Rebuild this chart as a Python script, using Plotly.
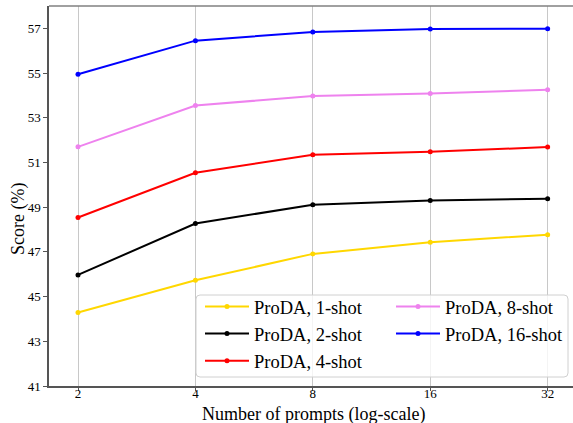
import plotly.graph_objects as go
import math

prompts = [2, 4, 8, 16, 32]
shot_1 = [44.29, 45.73, 46.91, 47.43, 47.77]
shot_2 = [45.97, 48.27, 49.11, 49.30, 49.38]
shot_4 = [48.54, 50.54, 51.34, 51.48, 51.69]
shot_8 = [51.70, 53.55, 53.97, 54.09, 54.25]
shot_16 = [54.95, 56.45, 56.84, 56.97, 56.98]

names = ["ProDA, 1-shot", "ProDA, 2-shot", "ProDA, 4-shot", "ProDA, 8-shot", "ProDA, 16-shot"]
colors = ["#FFD700", "#000000", "#FF0000", "#EE82EE", "#0000FF"]
series = [shot_1, shot_2, shot_4, shot_8, shot_16]
legends = ["legend", "legend", "legend", "legend2", "legend2"]

yticks = [41, 43, 45, 47, 49, 51, 53, 55, 57]
x_title = "Number of prompts (log-scale)"
y_title = "Score (%)"

FONT = "Liberation Serif, Times New Roman, serif"

fig = go.Figure()
for n, c, s, lg in zip(names, colors, series, legends):
    fig.add_trace(go.Scatter(
        x=prompts, y=s, name=n, mode="lines+markers",
        line=dict(color=c, width=2),
        marker=dict(color=c, size=5),
        legend=lg,
    ))

W, H = 573, 423
L, T, B, R = 49, 6, 37, 0
pw = W - L - R
ph = H - T - B

def px_x(p):
    return (p - L) / pw

def px_y(p):
    return (H - B - p) / ph

fig.update_layout(
    width=W, height=H,
    margin=dict(l=L, r=R, t=T, b=B),
    paper_bgcolor="white", plot_bgcolor="white",
    font=dict(family=FONT, size=13, color="#000"),
    xaxis=dict(
        type="log",
        range=[0.753 * math.log10(2), 5.216 * math.log10(2)],
        tickvals=prompts, ticktext=[str(p) for p in prompts],
        showgrid=True, gridcolor="#c8c8c8", gridwidth=1,
        showline=True, linecolor="#555", linewidth=1.5,
        ticks="outside", ticklen=3, tickcolor="#555",
        tickfont=dict(size=13, family=FONT),
        ticklabelstandoff=-8,
        zeroline=False, automargin=False,
    ),
    yaxis=dict(
        range=[41, 58],
        tickvals=yticks,
        showgrid=False,
        showline=True, linecolor="#555", linewidth=1.5,
        ticks="outside", ticklen=4, tickcolor="#555",
        tickfont=dict(size=13, family=FONT),
        zeroline=False, automargin=False,
    ),
    legend=dict(
        x=px_x(200), y=px_y(288), xanchor="left", yanchor="top",
        bgcolor="rgba(0,0,0,0)", font=dict(size=18.5, family=FONT),
        tracegroupgap=0, itemwidth=44,
    ),
    legend2=dict(
        x=px_x(391), y=px_y(288), xanchor="left", yanchor="top",
        bgcolor="rgba(0,0,0,0)", font=dict(size=18.5, family=FONT),
        tracegroupgap=0, itemwidth=44,
    ),
    showlegend=True,
)

# axis titles
fig.add_annotation(text=x_title, xref="paper", yref="paper",
                   x=px_x(313), y=px_y(414), xanchor="center", yanchor="middle",
                   showarrow=False, font=dict(size=18, family=FONT, color="#000"))
fig.add_annotation(text=y_title, xref="paper", yref="paper",
                   x=px_x(18), y=px_y(219), xanchor="center", yanchor="middle",
                   textangle=-90, showarrow=False,
                   font=dict(size=18, family=FONT, color="#000"))

# legend frame with rounded corners
bx0, bx1, by0, by1 = 196, 568, 295, 377
rad = 4
rx, ry = rad / pw, rad / ph
x0, x1 = px_x(bx0), px_x(bx1)
yt, yb = px_y(by0), px_y(by1)
path = (f"M{x0+rx},{yt} L{x1-rx},{yt} Q{x1},{yt} {x1},{yt-ry} "
        f"L{x1},{yb+ry} Q{x1},{yb} {x1-rx},{yb} L{x0+rx},{yb} "
        f"Q{x0},{yb} {x0},{yb+ry} L{x0},{yt-ry} Q{x0},{yt} {x0+rx},{yt} Z")
fig.add_shape(type="path", xref="paper", yref="paper", path=path,
              line=dict(color="#d0d0d0", width=1),
              fillcolor="rgba(255,255,255,0.8)", layer="above")
# top spine
fig.add_shape(type="line", xref="paper", yref="paper", x0=0, x1=1, y0=1, y1=1,
              line=dict(color="#808080", width=1.5))

fig.write_html("out.html")
